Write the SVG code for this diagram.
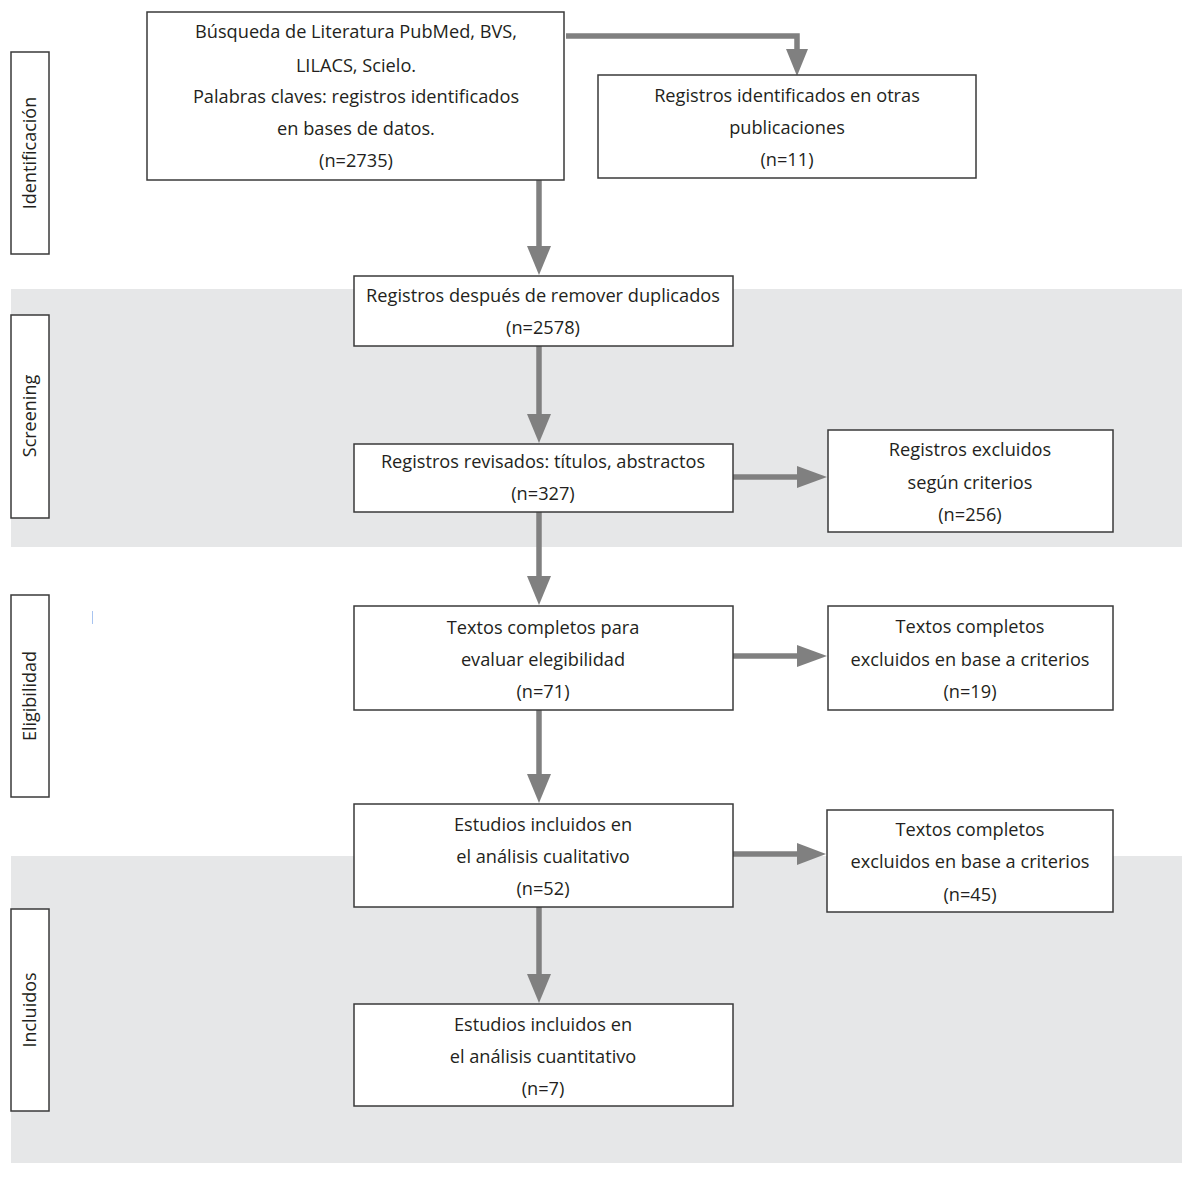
<svg xmlns="http://www.w3.org/2000/svg" width="1197" height="1177" viewBox="0 0 1197 1177">
<style>
.band{fill:#e6e7e8}
.box{fill:#fff;stroke:#3a3a3a;stroke-width:1.5}
.t{font-family:"Open Sans","Noto Sans",sans-serif;font-size:18.2px;fill:#231f20;text-anchor:middle}
.lbl{font-family:"Open Sans","Noto Sans",sans-serif;font-size:18px;fill:#231f20;text-anchor:middle}
.ln{stroke:#808080;stroke-width:5.5;fill:none}
.hd{fill:#808080}
</style>
<rect class="band" x="11" y="289" width="1171" height="258"/>
<rect class="band" x="11" y="856" width="1171" height="307"/>
<line x1="92.5" y1="611" x2="92.5" y2="624" stroke="#a8c4f0" stroke-width="1"/>
<g id="lbl-identificacion"><rect class="box" x="11" y="52" width="38" height="202"/><text class="lbl" transform="translate(36,153) rotate(-90)">Identificación</text></g>
<g id="lbl-screening"><rect class="box" x="11" y="315" width="38" height="203"/><text class="lbl" transform="translate(36,416) rotate(-90)">Screening</text></g>
<g id="lbl-eligibilidad"><rect class="box" x="11" y="595" width="38" height="202"/><text class="lbl" transform="translate(36,696) rotate(-90)">Eligibilidad</text></g>
<g id="lbl-incluidos"><rect class="box" x="11" y="909" width="38" height="202"/><text class="lbl" transform="translate(36,1010) rotate(-90)">Incluidos</text></g>
<g id="connectors">
<polyline class="ln" points="566,36 797,36 797,50"/>
<polygon class="hd" points="786,49 808,49 797,76"/>
<line class="ln" x1="539" y1="180" x2="539" y2="248"/>
<polygon class="hd" points="527,246 551,246 539,275"/>
<line class="ln" x1="539" y1="346" x2="539" y2="416"/>
<polygon class="hd" points="527,414 551,414 539,443"/>
<line class="ln" x1="733" y1="477" x2="800" y2="477"/>
<polygon class="hd" points="797,466 797,488 827,477"/>
<line class="ln" x1="539" y1="512" x2="539" y2="578"/>
<polygon class="hd" points="527,576 551,576 539,605"/>
<line class="ln" x1="733" y1="656" x2="800" y2="656"/>
<polygon class="hd" points="797,645 797,667 827,656"/>
<line class="ln" x1="539" y1="710" x2="539" y2="776"/>
<polygon class="hd" points="527,774 551,774 539,803"/>
<line class="ln" x1="733" y1="854" x2="800" y2="854"/>
<polygon class="hd" points="797,843 797,865 826,854"/>
<line class="ln" x1="539" y1="907" x2="539" y2="976"/>
<polygon class="hd" points="527,974 551,974 539,1003"/>
</g>
<g id="n1"><rect class="box" x="147" y="12" width="417" height="168"/>
<text class="t" x="356" y="38">Búsqueda de Literatura PubMed, BVS,</text>
<text class="t" x="356" y="72">LILACS, Scielo.</text>
<text class="t" x="356" y="103">Palabras claves: registros identificados</text>
<text class="t" x="356" y="135">en bases de datos.</text>
<text class="t" x="356" y="167">(n=2735)</text></g>
<g id="n2"><rect class="box" x="598" y="75" width="378" height="103"/>
<text class="t" x="787" y="102">Registros identificados en otras</text>
<text class="t" x="787" y="134">publicaciones</text>
<text class="t" x="787" y="166">(n=11)</text></g>
<g id="n3"><rect class="box" x="354" y="276" width="379" height="70"/>
<text class="t" x="543" y="302">Registros después de remover duplicados</text>
<text class="t" x="543" y="334">(n=2578)</text></g>
<g id="n4"><rect class="box" x="354" y="444" width="379" height="68"/>
<text class="t" x="543" y="468">Registros revisados: títulos, abstractos</text>
<text class="t" x="543" y="500">(n=327)</text></g>
<g id="n5"><rect class="box" x="828" y="430" width="285" height="102"/>
<text class="t" x="970" y="456">Registros excluidos</text>
<text class="t" x="970" y="489">según criterios</text>
<text class="t" x="970" y="521">(n=256)</text></g>
<g id="n6"><rect class="box" x="354" y="606" width="379" height="104"/>
<text class="t" x="543" y="634">Textos completos para</text>
<text class="t" x="543" y="666">evaluar elegibilidad</text>
<text class="t" x="543" y="698">(n=71)</text></g>
<g id="n7"><rect class="box" x="828" y="606" width="285" height="104"/>
<text class="t" x="970" y="633">Textos completos</text>
<text class="t" x="970" y="666">excluidos en base a criterios</text>
<text class="t" x="970" y="698">(n=19)</text></g>
<g id="n8"><rect class="box" x="354" y="804" width="379" height="103"/>
<text class="t" x="543" y="831">Estudios incluidos en</text>
<text class="t" x="543" y="863">el análisis cualitativo</text>
<text class="t" x="543" y="895">(n=52)</text></g>
<g id="n9"><rect class="box" x="827" y="810" width="286" height="102"/>
<text class="t" x="970" y="836">Textos completos</text>
<text class="t" x="970" y="868">excluidos en base a criterios</text>
<text class="t" x="970" y="901">(n=45)</text></g>
<g id="n10"><rect class="box" x="354" y="1004" width="379" height="102"/>
<text class="t" x="543" y="1031">Estudios incluidos en</text>
<text class="t" x="543" y="1063">el análisis cuantitativo</text>
<text class="t" x="543" y="1095">(n=7)</text></g>
</svg>
